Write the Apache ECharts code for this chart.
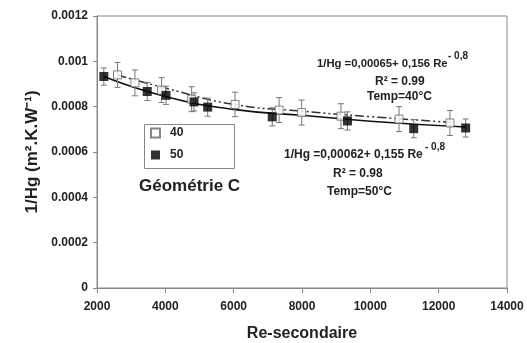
<!DOCTYPE html>
<html><head><meta charset="utf-8">
<script src="https://cdn.jsdelivr.net/npm/echarts@6/dist/echarts.min.js"></script>
<style>html,body{margin:0;padding:0;background:#fff}#c{width:527px;height:343px}</style>
</head><body><div id="c"></div>
<script>
// Series 40 °C (open squares): Re, 1/Hg, error
const re40  = [2600, 3110, 3890, 4770, 6040, 7330, 7990, 9140, 10840, 12330];
const hg40  = [0.00094, 0.000905, 0.000873, 0.000833, 0.00081, 0.000785, 0.000774, 0.000758, 0.000745, 0.000728];
const err40 = [0.000055, 0.000057, 0.000055, 0.000055, 0.000054, 0.000055, 0.000055, 0.000055, 0.000055, 0.000055];
// Series 50 °C (filled squares)
const re50  = [2200, 3470, 4020, 4840, 5240, 7130, 9330, 11270, 12790];
const hg50  = [0.000933, 0.000867, 0.00085, 0.000821, 0.000798, 0.000755, 0.000737, 0.000703, 0.000706];
const err50 = [0.000038, 0.00004, 0.00004, 0.00004, 0.00004, 0.00004, 0.00004, 0.00004, 0.00004];
// Fit curves
const fitRe40 = [2600, 4000, 6000, 8000, 10000, 12330];
const fitHg40 = [0.00094, 0.000882, 0.00081, 0.00078, 0.000756, 0.000731];
const fitRe50 = [2200, 4000, 6000, 8000, 10000, 12800];
const fitHg50 = [0.000933, 0.000845, 0.000788, 0.000762, 0.000736, 0.00071];
const xTicks = ['2000', '4000', '6000', '8000', '10000', '12000', '14000'];
const yTicks = ['0', '0.0002', '0.0004', '0.0006', '0.0008', '0.001', '0.0012'];

const zip = (a, b, c) => a.map((v, i) => c ? [v, b[i], c[i]] : [v, b[i]]);
const FONT = '"Liberation Sans", Arial, sans-serif';

function errRender(params, api) {
  const x = api.value(0), y = api.value(1), e = api.value(2);
  const p1 = api.coord([x, y + e]), p2 = api.coord([x, y - e]);
  const w = 3;
  const st = { stroke: '#777', lineWidth: 1 };
  return { type: 'group', children: [
    { type: 'line', shape: { x1: p1[0], y1: p1[1], x2: p2[0], y2: p2[1] }, style: st },
    { type: 'line', shape: { x1: p1[0] - w, y1: p1[1], x2: p1[0] + w, y2: p1[1] }, style: st },
    { type: 'line', shape: { x1: p2[0] - w, y1: p2[1], x2: p2[0] + w, y2: p2[1] }, style: st }
  ]};
}

const chart = echarts.init(document.getElementById('c'));
chart.setOption({
  animation: false,
  textStyle: { fontFamily: FONT },
  grid: { left: 97, right: 20, top: 16, bottom: 55, show: true, borderColor: '#888', borderWidth: 1,
    outerBoundsMode: 'none', containLabel: false },
  xAxis: {
    type: 'value', min: +xTicks[0], max: +xTicks[xTicks.length - 1], interval: 2000,
    name: 'Re-secondaire', nameLocation: 'middle', nameGap: 38,
    nameTextStyle: { fontFamily: FONT, fontWeight: 'bold', fontSize: 16, color: '#222' },
    axisLine: { lineStyle: { color: '#888' } },
    axisTick: { inside: false, length: 5, lineStyle: { color: '#888' } },
    axisLabel: { fontFamily: FONT, fontWeight: 'bold', fontSize: 12, color: '#222', margin: 13,
      formatter: (v) => xTicks[Math.round((v - 2000) / 2000)] },
    splitLine: { show: false }
  },
  yAxis: {
    type: 'value', min: 0, max: 0.0012, interval: 0.0002,
    name: '1/Hg (m\u00B2.K.W\u207B\u00B9)', nameLocation: 'middle', nameGap: 56, nameRotate: 90,
    nameTextStyle: { fontFamily: FONT, fontWeight: 'bold', fontSize: 17, color: '#222' },
    axisLine: { show: true, lineStyle: { color: '#888' } },
    axisTick: { show: true, length: 4, lineStyle: { color: '#888' } },
    axisLabel: { fontFamily: FONT, fontWeight: 'bold', fontSize: 12, color: '#222', margin: 9,
      formatter: (v) => yTicks[Math.round(v / 0.0002)] },
    splitLine: { show: false }
  },
  legend: {
    left: 145, top: 122, orient: 'vertical', itemGap: 10, itemWidth: 9, itemHeight: 9,
    data: ['40', '50'],
    textStyle: { fontFamily: FONT, fontWeight: 'bold', fontSize: 12, color: '#222', padding: [0, 0, 0, 5] }
  },
  graphic: [
    { type: 'rect', left: 142, top: 122, shape: { width: 90, height: 44 }, style: { fill: 'none', stroke: '#888', lineWidth: 1 }, z: 1 },
    { type: 'text', left: 139, top: 178, style: { text: 'Géométrie C', font: 'bold 17px ' + FONT, fill: '#222' } },
    { type: 'text', left: 317, top: 58, style: { text: '1/Hg =0,00065+ 0,156 Re', font: 'bold 11.3px ' + FONT, fill: '#222' } },
    { type: 'text', left: 448, top: 51, style: { text: '- 0,8', font: 'bold 10px ' + FONT, fill: '#222' } },
    { type: 'text', left: 375, top: 76, style: { text: 'R\u00B2 = 0.99', font: 'bold 12px ' + FONT, fill: '#222' } },
    { type: 'text', left: 367, top: 91, style: { text: 'Temp=40\u00B0C', font: 'bold 12px ' + FONT, fill: '#222' } },
    { type: 'text', left: 284, top: 149, style: { text: '1/Hg =0,00062+ 0,155 Re', font: 'bold 12px ' + FONT, fill: '#222' } },
    { type: 'text', left: 425, top: 142, style: { text: '- 0,8', font: 'bold 10px ' + FONT, fill: '#222' } },
    { type: 'text', left: 333, top: 168, style: { text: 'R\u00B2 = 0.98', font: 'bold 12px ' + FONT, fill: '#222' } },
    { type: 'text', left: 327, top: 186, style: { text: 'Temp=50\u00B0C', font: 'bold 12px ' + FONT, fill: '#222' } }
  ],
  series: [
    { name: 'fit40', type: 'line', data: zip(fitRe40, fitHg40), smooth: 0.5, showSymbol: false, silent: true,
      lineStyle: { color: '#333', width: 1.5, type: [9, 3, 2, 3, 2, 3] }, z: 2 },
    { name: 'fit50', type: 'line', data: zip(fitRe50, fitHg50), smooth: 0.5, showSymbol: false, silent: true,
      lineStyle: { color: '#111', width: 1.6 }, z: 2 },
    { name: 'err40', type: 'custom', renderItem: errRender, data: zip(re40, hg40, err40), z: 3 },
    { name: 'err50', type: 'custom', renderItem: errRender, data: zip(re50, hg50, err50), z: 3 },
    { name: '40', type: 'scatter', data: zip(re40, hg40), symbol: 'rect', symbolSize: 8,
      itemStyle: { color: '#fff', borderColor: '#666', borderWidth: 1 }, z: 4 },
    { name: '50', type: 'scatter', data: zip(re50, hg50), symbol: 'rect', symbolSize: 9,
      itemStyle: { color: '#000' }, z: 5 }
  ]
});
</script></body></html>
